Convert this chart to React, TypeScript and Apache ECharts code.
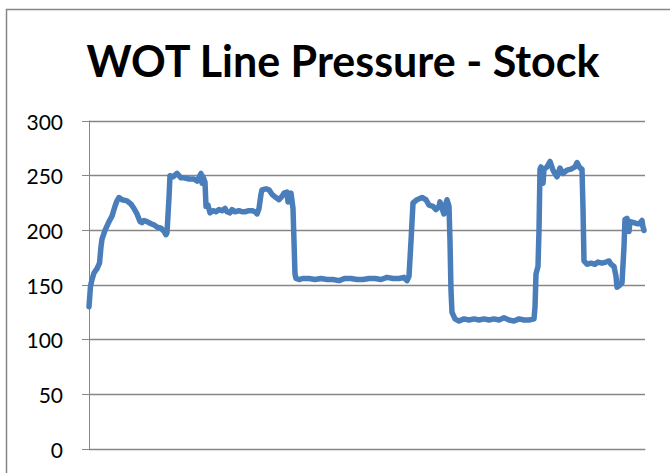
import React, { useEffect, useRef } from "react";
import * as echarts from "echarts";

const titleText = "WOT Line Pressure - Stock";
const yTicks = [0, 50, 100, 150, 200, 250, 300];

// sample index along the run
const sampleIndex = [
  0, 1.5, 3, 5, 8, 10.5, 12, 13, 16, 20, 23, 26, 28, 30, 33, 38, 42, 45, 48, 51, 53, 55, 58, 62, 65, 68, 72, 75, 77, 78,
  80, 81, 84, 88, 92, 95, 100, 105, 108, 112, 113, 114, 116, 117, 119, 121, 124, 127, 130, 133, 136, 138, 141, 143, 146,
  150, 153, 156, 160, 163, 166, 168, 170, 172, 173, 177, 180, 183, 187, 190, 193, 195, 198, 199, 200, 201, 202, 204, 206,
  207, 210, 214, 220, 226, 232, 238, 244, 250, 256, 262, 268, 274, 280, 286, 292, 298, 304, 310, 315, 318, 320, 322, 324,
  328, 333, 337, 340, 344, 347, 350, 351, 353, 355, 357, 358, 360, 361, 362, 363, 366, 370, 375, 380, 385, 390, 395, 400,
  405, 410, 415, 420, 425, 430, 435, 440, 445, 446, 447, 449, 450, 451, 452, 454, 455, 458, 461, 464, 468, 471, 474, 478,
  482, 486, 488, 491, 493, 494, 495, 498, 502, 506, 509, 513, 517, 520, 522, 525, 527, 528, 531, 533, 535, 536, 538, 540,
  541, 545, 548, 550, 553, 554, 555,
];

// line pressure (psi)
const pressure = [
  130, 149, 155, 161, 165, 170, 185, 192, 200, 208, 213, 222, 227, 230, 228, 227, 224, 220, 215, 208, 207, 209, 208, 206,
  205, 203, 202, 199, 196, 198, 230, 250, 249, 252, 248, 248, 247, 247, 245, 252, 243, 249, 244, 222, 223, 216, 218, 217,
  219, 218, 220, 217, 216, 219, 217, 218, 217, 217, 218, 218, 217, 215, 220, 233, 237, 238, 237, 233, 230, 228, 231, 234,
  235, 226, 233, 230, 234, 220, 160, 156, 155, 156, 156, 155, 156, 155, 155, 154, 156, 156, 155, 155, 156, 156, 155, 157,
  156, 156, 157, 154, 158, 190, 225, 228, 230, 228, 223, 222, 219, 222, 226, 220, 215, 225, 228, 222, 190, 145, 125, 119,
  117, 119, 118, 119, 118, 119, 118, 119, 118, 120, 118, 117, 119, 118, 118, 119, 130, 160, 167, 200, 256, 258, 243, 256,
  258, 263, 255, 249, 257, 252, 255, 256, 258, 262, 257, 256, 220, 172, 169, 170, 169, 171, 170, 171, 172, 169, 167, 158,
  148, 150, 152, 185, 210, 211, 199, 208, 207, 206, 206, 209, 203, 200,
];

const sampleMax = 556;

export default function App() {
  const ref = useRef<HTMLDivElement>(null);
  useEffect(() => {
    if (!ref.current) return;
    const chart = echarts.init(ref.current, null, { renderer: "svg" });
    const seriesData = sampleIndex.map((x, i) => [x, pressure[i]]);
    chart.setOption({
      animation: false,
      backgroundColor: "#ffffff",
      title: {
        text: titleText,
        left: 338,
        textAlign: "center",
        top: 34,
        textStyle: {
          fontFamily: "Lato",
          fontWeight: "bold",
          fontSize: 43,
          color: "#000000",
        },
      },
      graphic: [
        {
          type: "rect",
          shape: { x: 6.5, y: 9.5, width: 1000, height: 1000 },
          style: { fill: "none", stroke: "#868686", lineWidth: 1.5 },
          silent: true,
        },
      ],
      grid: { left: 89, top: 121, right: 25, bottom: 24, containLabel: false },
      xAxis: {
        type: "value",
        min: 0,
        max: sampleMax,
        axisLine: { show: true, lineStyle: { color: "#868686", width: 1 } },
        axisTick: { show: false },
        axisLabel: { show: false },
        splitLine: { show: false },
      },
      yAxis: {
        type: "value",
        min: 0,
        max: 300,
        interval: 50,
        axisLine: { show: true, lineStyle: { color: "#868686", width: 1 } },
        axisTick: { show: true, length: 7, lineStyle: { color: "#868686", width: 1 } },
        axisLabel: {
          margin: 26,
          fontFamily: "Lato",
          fontSize: 21,
          color: "#000000",
          formatter: (v: number) => (yTicks.includes(v) ? String(v) : ""),
        },
        splitLine: { show: true, lineStyle: { color: "#868686", width: 1.3 } },
      },
      series: [
        {
          type: "line",
          data: seriesData,
          showSymbol: false,
          symbol: "none",
          lineStyle: { color: "#4A7EBB", width: 5.5, join: "round", cap: "round" },
          smooth: false,
        },
      ],
    });
    return () => chart.dispose();
  }, []);
  return (
    <div
      ref={ref}
      style={{ position: "absolute", left: 0, top: 0, width: 670, height: 473 }}
    />
  );
}
